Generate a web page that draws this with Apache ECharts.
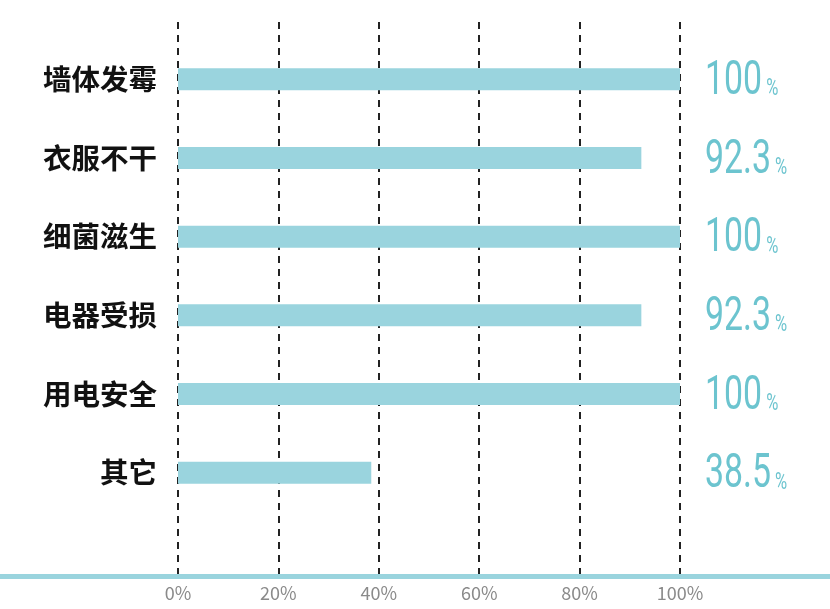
<!DOCTYPE html>
<html>
<head>
<meta charset="utf-8">
<script src="https://cdn.jsdelivr.net/npm/echarts@6/dist/echarts.min.js"></script>
<style>
  html, body { margin: 0; padding: 0; background: #fff; }
  #chart { width: 830px; height: 609px; }
</style>
</head>
<body>
<div id="chart"></div>
<script>
// 各问题占比（%）
var categories = ['墙体发霉', '衣服不干', '细菌滋生', '电器受损', '用电安全', '其它'];
var values = [100, 92.3, 100, 92.3, 100, 38.5];
var tickLabels = ['0%', '20%', '40%', '60%', '80%', '100%'];

var barColor = '#9ad4de';
var numColor = '#6cc4cf';

var chart = echarts.init(document.getElementById('chart'));
chart.setOption({
  animation: false,
  grid: [
    // 虚线网格 + 底部刻度
    { left: 178, right: 150, top: 22, bottom: 33 },
    // 条形
    { left: 178, right: 150, top: 40, height: 472 }
  ],
  xAxis: [
    {
      gridIndex: 0, type: 'value', min: 0, max: 100, interval: 20,
      axisLine: { show: false },
      axisTick: { show: false },
      axisLabel: {
        margin: 8, fontSize: 18, color: '#8a8a8a',
        fontFamily: 'Noto Sans CJK SC',
        formatter: function (v) { return tickLabels[v / 20]; }
      },
      splitLine: { lineStyle: { color: '#222', width: 2, type: [7, 6] } }
    },
    { gridIndex: 1, type: 'value', min: 0, max: 100, show: false }
  ],
  yAxis: [
    { gridIndex: 0, type: 'value', show: false },
    {
      gridIndex: 1, type: 'category', data: categories, inverse: true,
      axisLine: { show: false }, axisTick: { show: false }, splitLine: { show: false },
      axisLabel: {
        margin: 21, fontSize: 28.5, fontWeight: 'bold', color: '#111',
        fontFamily: 'Noto Sans CJK SC'
      }
    }
  ],
  series: [
    {
      type: 'bar', xAxisIndex: 1, yAxisIndex: 1,
      data: values, barWidth: 22,
      itemStyle: { color: barColor }
    },
    {
      // 右侧数值标签，统一对齐在 100% 位置之后
      type: 'custom', xAxisIndex: 1, yAxisIndex: 1, clip: false,
      data: values.map(function (v, i) { return [v, i]; }),
      renderItem: function (params, api) {
        var i = api.value(1);
        var p = api.coord([100, i]);
        return {
          type: 'text',
          x: p[0] + 25, y: p[1] + 2,
          scaleX: 0.69,
          style: {
            text: '{n|' + values[i] + '}{p|%}',
            verticalAlign: 'middle', align: 'left',
            rich: {
              n: { fontSize: 49, fontWeight: 400, fill: numColor, fontFamily: 'Roboto', lineHeight: 50, verticalAlign: 'bottom' },
              p: { fontSize: 24, fontWeight: 400, fill: numColor, fontFamily: 'Roboto', lineHeight: 24, verticalAlign: 'bottom', padding: [0, 0, 5, 6] }
            }
          }
        };
      }
    }
  ],
  graphic: [
    { type: 'rect', left: 0, top: 574, shape: { width: 830, height: 5 }, style: { fill: barColor }, z: 10 }
  ]
});
</script>
</body>
</html>
